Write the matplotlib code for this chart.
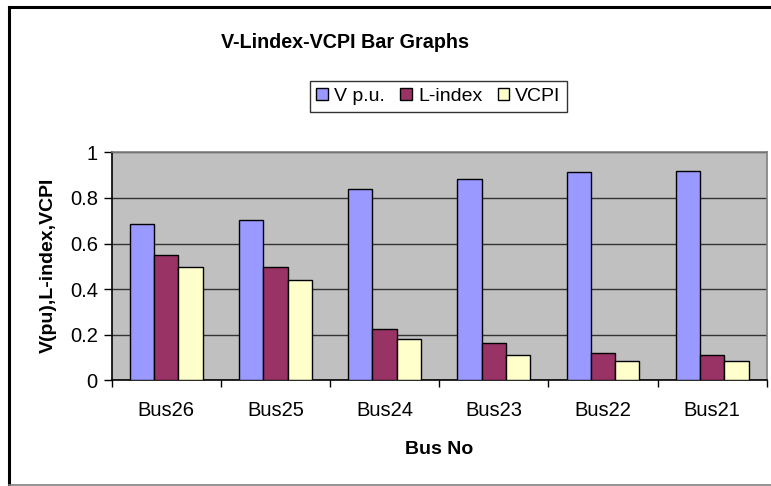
import matplotlib.pyplot as plt
from matplotlib.lines import Line2D
import numpy as np

plt.rcParams['font.family'] = ['Liberation Sans', 'DejaVu Sans']

# Dane
buses = ['Bus26', 'Bus25', 'Bus24', 'Bus23', 'Bus22', 'Bus21']
v_pu = [0.685, 0.705, 0.84, 0.885, 0.913, 0.92]
l_index = [0.548, 0.498, 0.226, 0.164, 0.12, 0.113]
vcpi = [0.498, 0.442, 0.183, 0.113, 0.085, 0.085]

series = [('V p.u.', v_pu, '#9999FF'),
          ('L-index', l_index, '#993366'),
          ('VCPI', vcpi, '#FFFFCC')]

W, H = 771, 486
fig = plt.figure(figsize=(W / 100, H / 100), dpi=100)

# Obszar wykresu (w pikselach jak w oryginale)
left, right, top, bottom = 111.7, 766.7, 152.3, 380.3
ax = fig.add_axes([left / W, 1 - bottom / H, (right - left) / W, (bottom - top) / H])
ax.set_facecolor('#C0C0C0')

x = np.arange(len(buses))
w = 1 / 4.5
for i, (name, vals, col) in enumerate(series):
    ax.bar(x + (i - 1) * w, vals, width=w, color=col, edgecolor='black',
           linewidth=1.0, label=name, zorder=3)

ax.set_xlim(-0.5, len(buses) - 0.5)
ax.set_ylim(0, 1)
ax.set_yticks([0, 0.2, 0.4, 0.6, 0.8, 1])
ax.set_yticklabels(['0', '0.2', '0.4', '0.6', '0.8', '1'])
ax.yaxis.grid(True, color='#333333', linewidth=1.0, zorder=1)
ax.set_axisbelow(True)

# Znaczniki osi x na granicach kategorii, etykiety w środku
ax.set_xticks(np.arange(len(buses) + 1) - 0.5)
ax.set_xticklabels([])
ax.set_xticks(x, minor=True)
ax.set_xticklabels(buses, minor=True)
ax.tick_params(axis='x', which='minor', length=0, pad=15, labelsize=14.5)
ax.tick_params(axis='x', which='major', length=5, width=1, direction='out', color='black')
ax.tick_params(axis='y', length=6, width=1, direction='out', labelsize=14.5, pad=4)

for s in ['top', 'right']:
    ax.spines[s].set_color('#808080')
    ax.spines[s].set_linewidth(1.2)
for s in ['left', 'bottom']:
    ax.spines[s].set_color('black')
    ax.spines[s].set_linewidth(1.2)

fig.text(345 / W, 1 - 42 / H, 'V-Lindex-VCPI Bar Graphs', ha='center', va='center',
         fontsize=14.2, fontweight='bold')
fig.text(439 / W, 1 - 449 / H, 'Bus No', ha='center', va='center',
         fontsize=14, fontweight='bold')
fig.text(48 / W, 1 - 265 / H, 'V(pu),L-index,VCPI', ha='center', va='center',
         rotation=90, fontsize=14, fontweight='bold')

leg = fig.legend(loc='center', bbox_to_anchor=(438.5 / W, 1 - 96.5 / H), ncol=3,
                 fontsize=14, frameon=True, fancybox=False, handlelength=0.6,
                 handleheight=0.6, handletextpad=0.3, columnspacing=0.8,
                 borderpad=0.35, borderaxespad=0)
leg.get_frame().set_edgecolor('black')
leg.get_frame().set_linewidth(1.0)

# Ramka całego wykresu
fig.add_artist(Line2D([9 / W, 9 / W], [1 - 7 / H, 1 - 485 / H], color='black', lw=2.2,
                      transform=fig.transFigure))
fig.add_artist(Line2D([9 / W, 1.0], [1 - 7 / H, 1 - 7 / H], color='black', lw=2.2,
                      transform=fig.transFigure))
fig.add_artist(Line2D([9 / W, 1.0], [1 - 485 / H, 1 - 485 / H], color='#808080', lw=1.2,
                      transform=fig.transFigure))

fig.savefig('out.png', dpi=100)
